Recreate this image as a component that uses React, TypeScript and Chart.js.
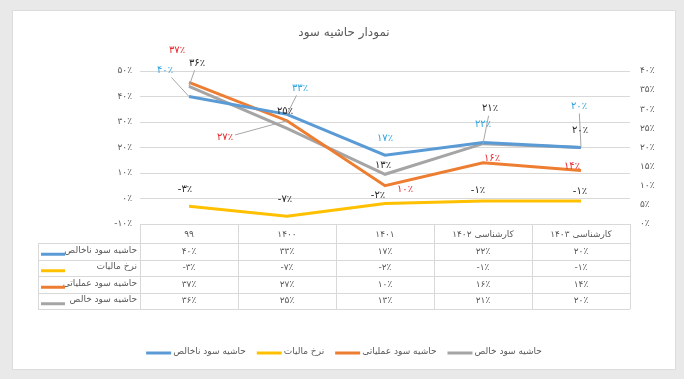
import React, { useEffect, useRef } from "react";
import { Chart, registerables } from "chart.js";

Chart.register(...registerables);

// ---------- data ----------
const chartTitle = "نمودار حاشیه سود";
const categories = ["۹۹", "۱۴۰۰", "۱۴۰۱", "کارشناسی ۱۴۰۲", "کارشناسی ۱۴۰۳"];
const seriesNames = ["حاشیه سود ناخالص", "نرخ مالیات", "حاشیه سود عملیاتی", "حاشیه سود خالص"];
const grossMargin = [40, 33, 17, 22, 20];
const taxRate = [-3, -7, -2, -1, -1];
const operatingMargin = [37, 27, 10, 16, 14];
const netMargin = [36, 25, 13, 21, 20];
const leftAxis = { min: -10, max: 50, step: 10 };
const rightAxis = { min: 0, max: 40, step: 5 };

// ---------- styles ----------
const FONT = "'DejaVu Sans', sans-serif";
const lineColors = ["#5B9BD5", "#FFC000", "#ED7D31", "#A5A5A5"];
const labelColors = ["#2FA3DC", "#262626", "#E8262B", "#262626"];
const axisIds = ["y", "y", "y1", "y1"];
// label offset from its point [dx, dy, leader]
const labelOffsets = [
  [[-24, -26, 1], [13, -26, 1], [0, -17, 0], [0, -18, 0], [-2, -41, 1]],
  [[-4, -17, 0], [-2, -17, 0], [-7, -8, 0], [-5, -11, 0], [-1, -10, 0]],
  [[-12, -32, 0], [-62, 17, 1], [20, 4, 0], [9, -4, 0], [-9, -4, 0]],
  [[8, -23, 1], [-2, -17, 0], [-2, -9, 0], [7, -35, 1], [-1, -17, 0]],
];

const FA = "۰۱۲۳۴۵۶۷۸۹";
function faNum(n: number): string {
  const s = String(Math.abs(Math.round(n))).replace(/\d/g, (d) => FA[+d]);
  return (n < 0 ? "-" : "") + s;
}
function faPct(n: number): string {
  return faNum(n) + "٪";
}

const seriesValues = [grossMargin, taxRate, operatingMargin, netMargin];

const overlayPlugin = {
  id: "overlay",
  afterDatasetsDraw(chart: any) {
    const ctx = chart.ctx as CanvasRenderingContext2D;
    ctx.save();
    ctx.font = `10px ${FONT}`;
    ctx.textAlign = "center";
    ctx.textBaseline = "middle";
    seriesValues.forEach((vals, si) => {
      const meta = chart.getDatasetMeta(si);
      vals.forEach((v, i) => {
        const pt = meta.data[i];
        const [dx, dy, leader] = labelOffsets[si][i];
        const lx = pt.x + dx;
        const ly = pt.y + dy;
        const text = faPct(v);
        const w = ctx.measureText(text).width;
        if (leader) {
          const hw = w / 2 + 2;
          const hh = 7;
          const vx = pt.x - lx;
          const vy = pt.y - ly;
          const t = Math.min(hw / Math.abs(vx || 1e-6), hh / Math.abs(vy || 1e-6));
          const sx = lx + vx * t;
          const sy = ly + vy * t;
          ctx.strokeStyle = "#A6A6A6";
          ctx.lineWidth = 1;
          ctx.beginPath();
          ctx.moveTo(sx, sy);
          ctx.lineTo(pt.x, pt.y);
          ctx.stroke();
        }
        ctx.fillStyle = labelColors[si];
        ctx.fillText(text, lx, ly);
      });
    });
    ctx.restore();
  },
  afterDraw(chart: any) {
    const ctx = chart.ctx as CanvasRenderingContext2D;
    const area = chart.chartArea;
    const W = chart.width;
    ctx.save();

    // title
    ctx.fillStyle = "#595959";
    ctx.font = `12px ${FONT}`;
    ctx.textAlign = "center";
    ctx.textBaseline = "middle";
    ctx.fillText(chartTitle, W / 2, 22);

    // data table
    const top = area.bottom;
    const headerH = 19;
    const rowH = 16.5;
    const left = area.left;
    const right = area.right;
    const labelLeft = 25;
    const n = categories.length;
    const colW = (right - left) / n;
    const bottom = top + headerH + rowH * seriesNames.length;
    ctx.strokeStyle = "#D9D9D9";
    ctx.lineWidth = 1;
    ctx.beginPath();
    ctx.moveTo(left, top + 0.5);
    ctx.lineTo(right, top + 0.5);
    for (let r = 0; r <= seriesNames.length; r++) {
      const y = Math.round(top + headerH + r * rowH) + 0.5;
      ctx.moveTo(labelLeft, y);
      ctx.lineTo(right, y);
    }
    for (let c = 0; c <= n; c++) {
      const x = Math.round(left + c * colW) + 0.5;
      ctx.moveTo(x, top);
      ctx.lineTo(x, bottom);
    }
    ctx.moveTo(labelLeft + 0.5, top + headerH);
    ctx.lineTo(labelLeft + 0.5, bottom);
    ctx.stroke();

    ctx.font = `9px ${FONT}`;
    ctx.fillStyle = "#595959";
    ctx.textAlign = "center";
    categories.forEach((c, i) => {
      ctx.fillText(c, left + colW * (i + 0.5), top + headerH / 2 + 1);
    });
    seriesNames.forEach((name, r) => {
      const cy = top + headerH + rowH * (r + 0.5);
      seriesValues[r].forEach((v, i) => {
        ctx.fillStyle = "#595959";
        ctx.textAlign = "center";
        ctx.fillText(faPct(v), left + colW * (i + 0.5), cy);
      });
      ctx.textAlign = "right";
      ctx.fillText(name, left - 3, cy - 1);
      ctx.strokeStyle = lineColors[r];
      ctx.lineWidth = 3;
      ctx.beginPath();
      ctx.moveTo(labelLeft + 3, cy + 3);
      ctx.lineTo(labelLeft + 27, cy + 3);
      ctx.stroke();
    });

    // legend
    const keyLen = 25;
    const keyGap = 2;
    const itemGap = 11;
    const widths = seriesNames.map((s) => keyLen + keyGap + ctx.measureText(s).width);
    const total = widths.reduce((a, b) => a + b, 0) + itemGap * (seriesNames.length - 1);
    let x = W / 2 - total / 2;
    const ly = 341;
    seriesNames.forEach((s, i) => {
      ctx.strokeStyle = lineColors[i];
      ctx.lineWidth = 3;
      ctx.beginPath();
      ctx.moveTo(x, ly + 1);
      ctx.lineTo(x + keyLen, ly + 1);
      ctx.stroke();
      ctx.fillStyle = "#595959";
      ctx.textAlign = "left";
      ctx.fillText(s, x + keyLen + keyGap, ly);
      x += widths[i] + itemGap;
    });

    ctx.restore();
  },
};

export default function App() {
  const ref = useRef<HTMLCanvasElement | null>(null);
  useEffect(() => {
    if (!ref.current) return;
    const tickFont = { family: FONT, size: 9 };
    const chart = new Chart(ref.current, {
      type: "line",
      data: {
        labels: categories,
        datasets: seriesValues.map((vals, i) => ({
          label: seriesNames[i],
          data: vals,
          yAxisID: axisIds[i],
          borderColor: lineColors[i],
          backgroundColor: lineColors[i],
          borderWidth: 3,
          pointRadius: 0,
          tension: 0,
          fill: false,
        })),
      },
      options: {
        animation: false,
        responsive: false,
        maintainAspectRatio: false,
        layout: { padding: { top: 60, bottom: 145, left: 0, right: 0 } },
        plugins: {
          legend: { display: false },
          title: { display: false },
          tooltip: { enabled: false },
        },
        scales: {
          x: { type: "category", display: false, offset: true },
          y: {
            position: "left",
            min: leftAxis.min,
            max: leftAxis.max,
            ticks: {
              stepSize: leftAxis.step,
              color: "#595959",
              font: tickFont,
              padding: 8,
              callback: (v: any) => faPct(Number(v)),
            },
            grid: { color: "#D9D9D9", drawTicks: false },
            border: { display: false },
            afterFit: (s: any) => {
              s.width = 127;
            },
          },
          y1: {
            position: "right",
            min: rightAxis.min,
            max: rightAxis.max,
            ticks: {
              stepSize: rightAxis.step,
              color: "#595959",
              font: tickFont,
              padding: 10,
              callback: (v: any) => faPct(Number(v)),
            },
            grid: { display: false, drawTicks: false },
            border: { display: false },
            afterFit: (s: any) => {
              s.width = 45;
            },
          },
        },
      },
      plugins: [overlayPlugin],
    } as any);
    return () => chart.destroy();
  }, []);

  return (
    <div style={{ position: "fixed", left: 0, top: 0, width: 684, height: 379, background: "#E9E9E9" }}>
      <div
        style={{
          position: "absolute",
          left: 13,
          top: 11,
          width: 662,
          height: 358,
          background: "#FFFFFF",
          boxShadow: "0 0 0 1px #DCDCDC",
        }}
      >
        <canvas ref={ref} width={662} height={358} style={{ display: "block" }} />
      </div>
    </div>
  );
}
